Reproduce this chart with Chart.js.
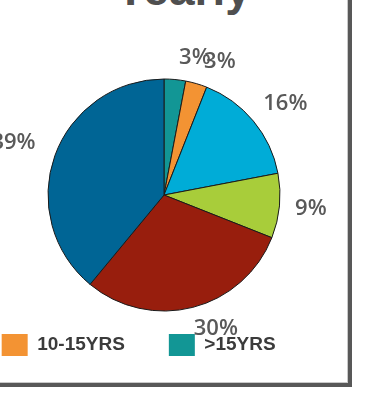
<!DOCTYPE html>
<html>
<head>
<meta charset="utf-8">
<script src="https://cdn.jsdelivr.net/npm/chart.js@4.4.1/dist/chart.umd.min.js"></script>
<style>
  html, body { margin: 0; padding: 0; background: #fff; overflow: hidden; width: 370px; height: 415px; }
  .frame {
    position: absolute; left: -10px; top: -10px; width: 358px; height: 393px;
    border-right: 4px solid #585858; border-bottom: 4px solid #585858;
    box-shadow: inset -1px -1px 0 #c9c9c9;
  }
  .title {
    position: absolute; left: 83px; top: -34px; width: 200px; text-align: center;
    font: bold 46px/46px "Liberation Sans", Arial, sans-serif; color: #4f4f4f;
  }
  .wrap { position: absolute; left: -637px; top: 0; width: 1602px; height: 366px; }
</style>
</head>
<body>
<div class="frame"></div>
<div class="title">Yearly</div>
<div class="wrap"><canvas id="myChart"></canvas></div>
<script>
// experience bands, in legend order
var categories = ["0-1YRS", "1-3YRS", "3-5YRS", "5-10YRS", "10-15YRS", ">15YRS"];
var shares = [39, 30, 9, 16, 3, 3];
var colors = ["#006595", "#981e0d", "#a8cd3a", "#00acd7", "#f39333", "#129695"];

// pie runs clockwise from the top with the last band first
var pieLabels = categories.slice().reverse();
var pieData = shares.slice().reverse();
var pieColors = colors.slice().reverse();

// percent labels just outside each slice, nudged sideways like excel does
var outsideLabels = {
    id: 'outsideLabels',
    afterDatasetsDraw: function(chart) {
        var ctx = chart.ctx;
        var meta = chart.getDatasetMeta(0);
        ctx.save();
        ctx.font = '600 22px "Open Sans", sans-serif';
        ctx.fillStyle = '#595959';
        ctx.textAlign = 'center';
        ctx.textBaseline = 'middle';
        meta.data.forEach(function(arc, i) {
            var p = arc.getProps(['x', 'y', 'startAngle', 'endAngle', 'outerRadius'], true);
            var mid = (p.startAngle + p.endAngle) / 2;
            var ux = Math.cos(mid), uy = Math.sin(mid);
            var text = pieData[i] + '%';
            var w = ctx.measureText(text).width, h = 16;
            var ext = Math.min(w / 2 / Math.max(Math.abs(ux), 1e-6), h / 2 / Math.max(Math.abs(uy), 1e-6));
            var d = p.outerRadius + 14 + ext;
            var x = p.x + ux * d + Math.sign(ux) * 18 * Math.abs(uy);
            ctx.fillText(text, x, p.y + uy * d);
        });
        ctx.restore();
    }
};

var ctx = document.getElementById("myChart");
var myPieChart = new Chart(ctx, {
    type: 'pie',
    data: {
        labels: pieLabels,
        datasets: [{
            data: pieData,
            backgroundColor: pieColors,
            borderColor: '#1a1a1a',
            borderWidth: 1,
            radius: 116
        }]
    },
    options: {
        responsive: true,
        maintainAspectRatio: false,
        animation: false,
        layout: { padding: { top: 100 } },
        plugins: {
            tooltip: { enabled: false },
            legend: {
                position: 'bottom',
                align: 'start',
                reverse: true,
                labels: {
                    boxWidth: 26,
                    boxHeight: 22,
                    padding: 44,
                    color: '#3b3b3b',
                    font: { family: '"Liberation Sans", Arial, sans-serif', weight: 'bold', size: 19 },
                    generateLabels: function(chart) {
                        var items = Chart.overrides.doughnut.plugins.legend.labels.generateLabels(chart);
                        items.forEach(function(it) { it.lineWidth = 0; });
                        return items;
                    }
                }
            }
        }
    },
    plugins: [outsideLabels]
});
</script>
</body>
</html>
